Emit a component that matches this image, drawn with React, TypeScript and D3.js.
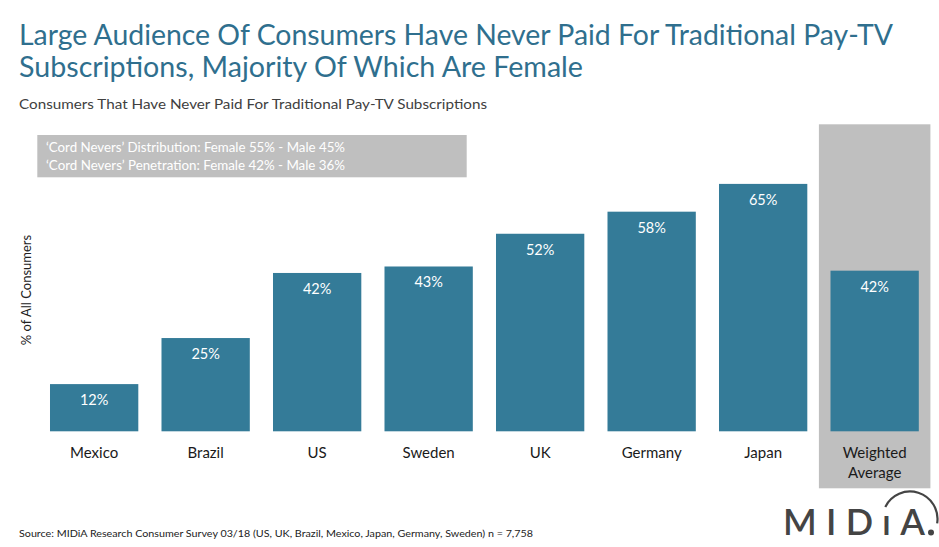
import React from "react";
import * as d3 from "d3";

const categories = ["Mexico", "Brazil", "US", "Sweden", "UK", "Germany", "Japan", "Weighted Average"];
const values = [12.4, 24.5, 41.6, 43.3, 51.9, 57.7, 65.0, 42.2];
const notes = [
  "‘Cord Nevers’ Distribution: Female 55% - Male 45%",
  "‘Cord Nevers’ Penetration: Female 42% - Male 36%",
];
const titleLines = [
  "Large Audience Of Consumers Have Never Paid For Traditional Pay-TV",
  "Subscriptions, Majority Of Which Are Female",
];
const subtitle = "Consumers That Have Never Paid For Traditional Pay-TV Subscriptions";
const yAxisLabel = "% of All Consumers";
const source = "Source: MIDiA Research Consumer Survey 03/18 (US, UK, Brazil, Mexico, Japan, Germany, Sweden) n = 7,758";

const W = 939;
const H = 547;
const FONT = "Lato, 'Open Sans', sans-serif";
const BAR = "#347b98";
const TITLE = "#2f6f8e";

export default function App() {
  const x = d3.scaleBand<string>().domain(categories).range([38.4, 930.4]).paddingInner(0.208).paddingOuter(0.104);
  const y = d3.scaleLinear().domain([0, 81]).range([431.3, 123]);
  const fmt = (v: number) => d3.format(".0f")(v) + "%";
  const last = categories[categories.length - 1];
  const step = x.step();
  const gap = step - x.bandwidth();

  const arcPath = d3.path();
  arcPath.arc(910, 519, 27.5, (-154 * Math.PI) / 180, (9 * Math.PI) / 180, false);

  return (
    <svg width={W} height={H} style={{ position: "absolute", left: 0, top: 0, background: "#fff" }} fontFamily={FONT}>
      <rect x={0} y={0} width={W} height={H} fill="#fff" />
      {/* title */}
      {titleLines.map((t, i) => (
        <text key={i} x={19} y={45 + i * 32} fontSize={29} fill={TITLE} textLength={i === 0 ? 874 : 564} lengthAdjust="spacingAndGlyphs">
          {t}
        </text>
      ))}
      <text x={19} y={109} fontSize={14} fill="#404040" textLength={468} lengthAdjust="spacingAndGlyphs">
        {subtitle}
      </text>

      {/* weighted average background */}
      <rect x={(x(last) as number) - gap / 2} y={124.3} width={step} height={488.3 - 124.3} fill="#bfbfbf" />

      {/* notes box */}
      <rect x={37.3} y={135} width={429.4} height={42.3} fill="#bfbfbf" />
      {notes.map((n, i) => (
        <text key={i} x={46} y={152 + i * 18} fontSize={12.5} fill="#fff" textLength={299} lengthAdjust="spacingAndGlyphs">
          {n}
        </text>
      ))}

      {/* y-axis label */}
      <text transform="translate(31,290) rotate(-90)" textAnchor="middle" fontSize={13} fill="#222">
        {yAxisLabel}
      </text>

      {/* bars */}
      {categories.map((c, i) => {
        const bx = x(c) as number;
        const cx = bx + x.bandwidth() / 2;
        return (
          <g key={c}>
            <rect x={bx} y={y(values[i])} width={x.bandwidth()} height={y(0) - y(values[i])} fill={BAR} />
            <text x={cx} y={y(values[i]) + 21} textAnchor="middle" fontSize={14.5} fill="#fff">
              {fmt(values[i])}
            </text>
            {i === categories.length - 1 ? (
              c.split(" ").map((w, k) => (
                <text key={k} x={cx} y={458 + k * 20} textAnchor="middle" fontSize={15} fill="#1a1a1a">
                  {w}
                </text>
              ))
            ) : (
              <text x={cx} y={458} textAnchor="middle" fontSize={15} fill="#1a1a1a">
                {c}
              </text>
            )}
          </g>
        );
      })}

      {/* source */}
      <text x={19} y={537} fontSize={10} fill="#222" textLength={514} lengthAdjust="spacingAndGlyphs">
        {source}
      </text>

      {/* logo */}
      <g fill="#444">
        <text x={783} y={535} fontSize={36} fontWeight={600} fontFamily="Lato, sans-serif" textLength={142} lengthAdjust="spacing">
          MIDıA
        </text>
        <circle cx={931} cy={532.5} r={3} />
        <path d={arcPath.toString()} fill="none" stroke="#444" strokeWidth={2.2} />
      </g>
    </svg>
  );
}
